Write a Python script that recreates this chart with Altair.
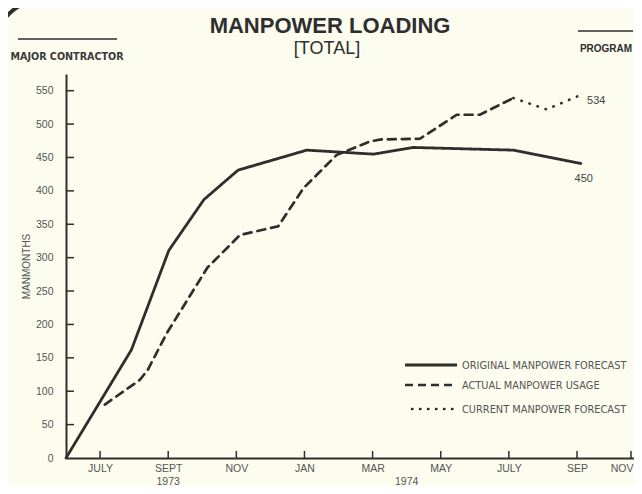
import altair as alt
import pandas as pd

# ---- data ----
months_orig = [0, 1.92, 3.02, 4.05, 5.05, 7.07, 9.03, 10.19, 13.13, 15.14]
values_orig = [0, 162, 311, 387, 431, 461, 455, 465, 461, 441]

months_actual = [1.14, 2.17, 2.4, 2.96, 4.15, 5.11, 6.23, 6.97, 7.95, 8.92, 9.25, 10.39, 11.47, 12.15, 13.13]
values_actual = [80, 117, 132, 187, 285, 334, 347, 404, 454, 474, 477, 478, 514, 514, 539]

months_current = [13.13, 14.11, 15.04]
values_current = [539, 522, 542]

series_names = ["ORIGINAL MANPOWER FORECAST", "ACTUAL MANPOWER USAGE", "CURRENT MANPOWER FORECAST"]

tick_months = [1, 3, 5, 7, 9, 11, 13, 15, 17]
tick_labels = ["JULY", "SEPT", "NOV", "JAN", "MAR", "MAY", "JULY", "SEP", "NOV"]
year_months = [3, 10]
year_labels = ["1973", "1974"]
y_ticks = [0, 50, 100, 150, 200, 250, 300, 350, 400, 450, 500, 550]
end_label_text = ["534", "450"]

# ---- build table ----
rows = []
for name, xs, ys in zip(series_names,
                        [months_orig, months_actual, months_current],
                        [values_orig, values_actual, values_current]):
    for i, (m, v) in enumerate(zip(xs, ys)):
        rows.append({"series": name, "month": m, "value": v, "idx": i})
df = pd.DataFrame(rows)

W, H = 568, 384
INK = "#2e2e2e"
GRAY = "#555555"
NARROW = "Liberation Sans, Arial, sans-serif"
PLAIN = "DejaVu Sans, sans-serif"

xscale = alt.Scale(domain=[0, 15, 17, 17.1], range=[0, 511, 565, W], nice=False, zero=False)
yscale = alt.Scale(domain=[0, 575], nice=False, zero=True)

label_map = "{" + ",".join(f"'{m}':'{t}'" for m, t in zip(tick_months, tick_labels)) + "}"
last_tick = f"datum.value == {tick_months[-1]}"

AX_X = alt.Axis(values=tick_months, labelExpr=f"{label_map}[datum.value]",
                title=None, tickSize=0, labelPadding=5, grid=False,
                labelOverlap=False, labelFlush=False,
                labelAlign={"condition": {"test": last_tick, "value": "right"}, "value": "center"},
                labelOffset={"condition": {"test": last_tick, "value": 2}, "value": 0},
                domainColor=INK, domainWidth=2, labelFont=NARROW,
                labelFontSize=10.5, labelColor=GRAY)
AX_Y = alt.Axis(values=y_ticks, title="MANMONTHS", tickSize=0, labelPadding=13,
                grid=False, labelOverlap=False, labelFlush=False,
                domainColor=INK, domainWidth=2, labelFont=NARROW,
                labelFontSize=10.5, labelColor=GRAY, titleFont=NARROW,
                titleFontSize=10, titleFontWeight="normal", titleColor=GRAY,
                titlePadding=4)

def X(field):
    return alt.X(field, scale=xscale, axis=AX_X, title=None)

def Y(field):
    return alt.Y(field, scale=yscale, axis=AX_Y, title="MANMONTHS")

lines = alt.Chart(df).mark_line(color=INK, strokeCap="round").encode(
    x=X("month:Q"),
    y=Y("value:Q"),
    strokeDash=alt.StrokeDash("series:N", scale=alt.Scale(domain=series_names,
                              range=[[1, 0], [8, 6], [0.5, 8]]), legend=None),
    strokeWidth=alt.StrokeWidth("series:N", scale=alt.Scale(domain=series_names,
                                range=[2.8, 2.6, 2.5]), legend=None),
    order="idx:Q",
    detail="series:N",
)

ytick_df = pd.DataFrame({"v": y_ticks[1:]})
yticks = alt.Chart(ytick_df).mark_rule(color=INK, strokeWidth=1.5).encode(
    y=Y("v:Q"), x=alt.value(0), x2=alt.value(8))

xtick_df = pd.DataFrame({"m": tick_months})
xticks = alt.Chart(xtick_df).mark_rule(color=INK, strokeWidth=1.5).encode(
    x=X("m:Q"), y=alt.value(H), y2=alt.value(H - 7))

year_df = pd.DataFrame({"m": year_months, "t": year_labels})
years = alt.Chart(year_df).mark_text(font=NARROW, fontSize=10.5, color=GRAY, baseline="alphabetic").encode(
    x=X("m:Q"), y=alt.value(H + 27), text="t:N")

end_df = pd.DataFrame({"m": [months_current[-1], months_orig[-1]],
                       "v": [values_current[-1], values_orig[-1]],
                       "t": end_label_text})
end1 = alt.Chart(end_df.iloc[[0]]).mark_text(font=NARROW, fontSize=11, color="#444",
                                             align="left", dx=9, dy=5).encode(
    x=X("m:Q"), y=Y("v:Q"), text="t:N")
end2 = alt.Chart(end_df.iloc[[1]]).mark_text(font=NARROW, fontSize=11, color="#444",
                                             align="center", dx=3, dy=16).encode(
    x=X("m:Q"), y=Y("v:Q"), text="t:N")

one = pd.DataFrame({"a": [0]})

def label(text, x, y, size, weight="normal", align="center", font=NARROW, color=INK):
    return alt.Chart(one).mark_text(text=text, font=font, fontSize=size, fontWeight=weight,
                                    align=align, baseline="alphabetic", color=color).encode(
        x=alt.value(x), y=alt.value(y))

def hline(x1, x2, y, w=1.5, dash=None):
    kw = {"color": INK, "strokeWidth": w}
    if dash is not None:
        kw["strokeDash"] = dash
    return alt.Chart(one).mark_rule(**kw).encode(x=alt.value(x1), x2=alt.value(x2), y=alt.value(y))

header = [
    label("MANPOWER LOADING", 264, -41, 22, "bold"),
    label("[TOTAL]", 261, -20, 18),
    label("MAJOR CONTRACTOR", 1, -14, 9.6, "bold", font=PLAIN, color="#3a3a3a"),
    hline(-48, 51, -35),
    label("PROGRAM", 540, -22, 10, "bold"),
    hline(512, 567, -43),
]

legend_layers = [
    hline(339, 391, 291, 2.8),
    hline(339, 391, 311, 2.6, [8, 5]),
    alt.Chart(one).mark_rule(color=INK, strokeWidth=2.5, strokeDash=[0.5, 7.5], strokeCap="round").encode(
        x=alt.value(346), x2=alt.value(392), y=alt.value(335)),
    label(series_names[0], 396, 295, 9.8, align="left", font=PLAIN, color="#555"),
    label(series_names[1], 396, 315, 9.8, align="left", font=PLAIN, color="#555"),
    label(series_names[2], 396, 339, 9.8, align="left", font=PLAIN, color="#555"),
]

ring = alt.Chart(one).mark_arc(radius=53, radius2=49, theta=4.9, theta2=6.28, color=INK).encode(
    x=alt.value(-21), y=alt.value(-24))

chart = alt.layer(
    lines, yticks, xticks, years, end1, end2, ring, *header, *legend_layers
).properties(
    width=W, height=H,
    autosize=alt.AutoSizeParams(type="none"),
    padding={"left": 58, "top": 66, "right": 0, "bottom": 28},
    background="#FCFCEF",
).configure_view(stroke=None)

chart.save("out.html", embed_options={"renderer": "svg", "actions": False})
